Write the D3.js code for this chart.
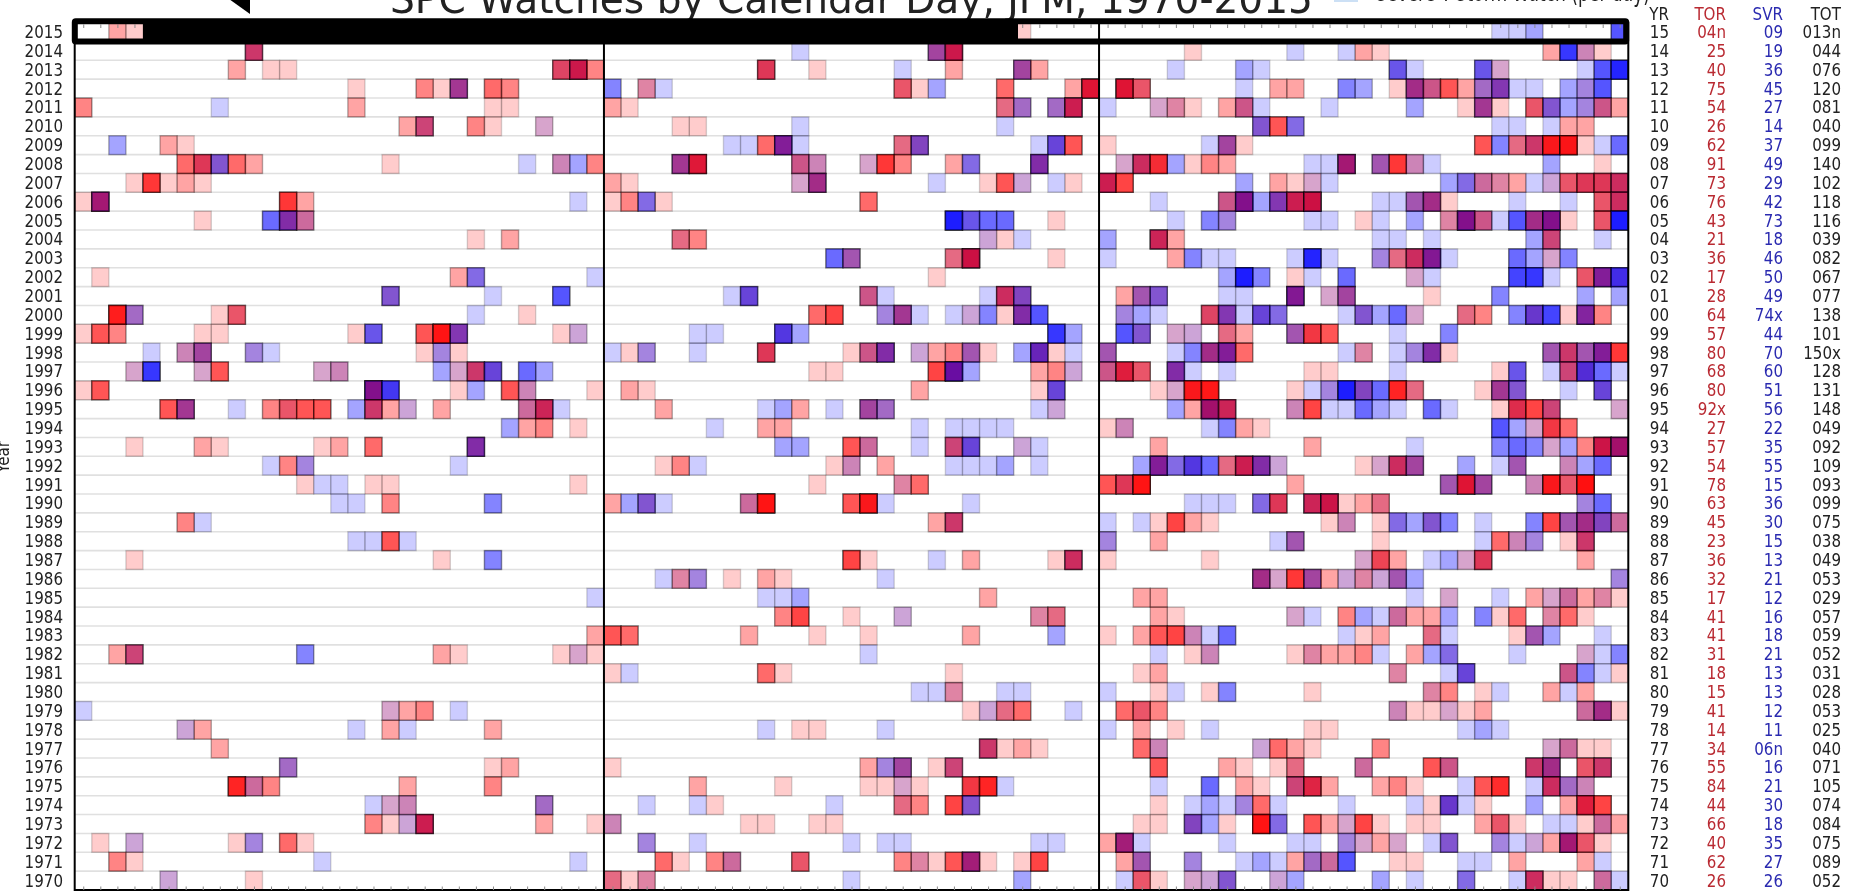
<!DOCTYPE html>
<html><head><meta charset="utf-8">
<script src="https://d3js.org/d3.v7.min.js"></script>
<style>html,body{margin:0;padding:0;background:#fff;overflow:hidden}svg{display:block;filter:blur(0.55px)}text{font-family:"DejaVu Sans",sans-serif}</style>
</head><body><svg id="c" width="1854" height="894"></svg>
<script>
// each cell: [day index from Jan 1, tornado watches, severe watches, (order: 1 = severe issued first, 2 = two tornado watches after the severe one)]
const y2015=[[2,2,0],[3,1,0],[55,1,0],[83,0,1],[84,0,1],[85,0,2],[90,0,5]];
const y2014=[[10,6,1],[42,0,1],[50,4,2],[51,10,1],[65,1,0],[71,0,1],[74,0,1],[75,2,0],[76,1,0],[86,2,0],[87,0,7],[88,2,1],[89,1,0]];
const y2013=[[9,2,0],[11,1,0],[12,1,0],[28,5,1,2],[29,10,1],[30,3,0],[40,6,1,2],[43,1,0],[48,0,1],[51,2,0],[55,4,2],[56,2,0],[64,0,1],[68,0,2],[69,0,1],[77,1,4],[78,0,1],[82,1,4],[83,1,1,1],[88,0,1],[89,0,5],[90,0,9]];
const y2012=[[16,1,0],[20,3,0],[21,1,0],[22,5,2],[24,4,0],[25,3,0],[31,0,3],[33,2,1,1],[34,0,1],[48,4,1,1],[49,1,0],[50,0,2],[54,4,0],[58,2,0],[59,11,1,2],[61,11,1,2],[62,4,1,1],[68,0,1],[70,2,0],[71,2,0],[74,0,3],[75,0,2],[77,1,0],[78,6,2],[79,4,1],[80,5,0],[81,2,0],[82,2,2],[83,4,3],[84,0,1],[85,0,1],[87,0,2],[88,1,2],[89,0,5]];
const y2011=[[0,3,0],[8,0,1],[16,2,0],[24,1,0],[25,1,0],[31,2,0],[32,1,0],[54,3,1,1],[55,2,2],[57,2,2],[58,9,1],[60,0,1],[63,1,1,1],[64,2,1,1],[65,1,0],[67,2,0],[68,4,1],[69,0,1],[73,0,1],[78,0,2],[81,1,0],[82,5,2],[83,1,0],[85,4,1,1],[86,2,3],[87,0,2],[88,1,2],[89,4,1],[90,2,0]];
const y2010=[[19,2,0],[20,5,1],[23,3,0],[24,1,0],[27,1,1,1],[35,1,0],[36,1,0],[42,0,1],[54,0,1],[69,2,3],[70,5,0],[71,1,3],[83,0,1],[84,0,1],[86,0,1],[87,2,0],[88,2,0]];
const y2009=[[2,0,2],[5,2,0],[6,1,0],[38,0,1],[39,0,1],[40,4,0],[41,7,3],[42,0,1],[48,3,1,1],[49,3,3],[56,0,1],[57,2,4],[58,5,0],[60,1,0],[66,0,1],[67,4,2],[68,1,0],[82,5,0],[83,0,3],[84,3,1,1],[85,6,1],[86,10,1,1],[87,11,1,1],[88,1,0],[89,0,1],[90,0,4]];
const y2008=[[6,4,0],[7,6,1,2],[8,2,3],[9,4,0],[10,2,0],[18,1,0],[26,0,1],[28,2,1],[29,0,2],[30,3,0],[35,5,2],[36,10,1,2],[42,4,1],[43,2,1],[46,1,1,1],[47,7,0],[48,3,0],[51,2,0],[52,1,3],[56,5,3],[61,1,1,1],[62,7,1],[63,7,1,1],[64,0,2],[65,1,0],[66,3,0],[67,2,0],[72,0,1],[73,0,1],[74,9,2],[76,3,2],[77,7,0],[78,2,1],[79,0,1],[86,0,2],[89,1,0]];
const y2007=[[3,1,0],[4,7,0],[5,1,0],[6,2,0],[7,1,0],[31,2,0],[32,1,0],[42,1,1,1],[43,6,2],[50,0,1],[53,1,0],[54,5,0],[55,1,1],[57,0,1],[58,1,0],[60,9,1],[61,6,0],[68,0,2],[70,2,0],[71,1,0],[72,1,1,1],[73,0,1],[80,0,2],[81,1,3],[82,3,1],[83,2,1,1],[84,2,0],[85,0,1],[86,1,1],[87,4,1,1],[88,6,1,2],[89,6,1,2],[90,7,1]];
const y2006=[[0,1,0],[1,9,2],[12,7,0],[13,2,0],[29,0,1],[31,1,0],[32,3,0],[33,1,3],[34,1,0],[46,4,0],[63,0,1],[67,4,1],[68,10,3],[69,0,2],[70,4,3],[71,9,1],[72,12,1],[76,0,1],[77,0,1],[78,3,2],[79,6,2],[80,1,0],[84,0,1],[87,0,1],[89,4,1,1],[90,7,1]];
const y2005=[[7,1,0],[11,0,4],[12,5,3],[13,3,1],[51,0,10],[52,1,4],[53,0,4],[54,0,4],[57,1,0],[64,0,1],[66,0,3],[67,1,2],[72,0,1],[73,0,1],[75,1,0],[76,0,1],[78,0,2],[80,2,1,1],[81,10,3],[82,4,1],[83,0,1],[84,0,5],[85,6,2],[86,10,3],[87,1,0],[89,4,1,1],[90,0,10]];
const y2004=[[23,1,0],[25,2,0],[35,3,1,1],[36,3,0],[53,1,1],[54,1,0],[55,0,1],[60,0,2],[63,8,1],[64,2,0],[76,0,1],[77,0,1],[79,0,1],[85,0,2],[86,5,1],[89,0,1]];
const y2003=[[44,0,4],[45,3,2],[51,3,1,1],[52,12,1],[57,1,0],[60,0,1],[64,2,0],[65,0,3],[66,0,1],[67,0,1],[71,0,1],[72,0,9],[73,0,1],[76,1,2],[77,3,1,1],[78,7,1],[79,8,3],[80,0,1],[84,0,4],[85,0,2],[86,1,1,1],[87,0,3]];
const y2002=[[1,1,0],[22,2,0],[23,1,3],[30,0,1],[50,1,0],[67,0,2],[68,0,10],[69,0,3],[71,1,0],[72,0,1],[74,0,4],[78,1,1,1],[79,0,1],[84,0,6],[85,0,7],[86,0,1],[88,4,1,1],[89,7,3],[90,2,6]];
const y2001=[[18,2,3],[24,0,1],[28,0,5],[38,0,1],[39,2,4],[46,4,1],[47,0,1],[53,0,1],[54,7,1],[55,3,3],[61,2,0],[62,3,2],[63,2,3],[67,0,1],[68,0,1],[71,8,3],[73,1,1,1],[74,4,2],[79,1,0],[83,0,3],[88,0,2],[90,0,2]];
const y2000=[[2,10,0],[3,2,2],[8,1,0],[9,4,1,1],[23,0,1],[26,1,0],[43,4,0],[44,6,0],[47,1,2],[48,5,2],[49,0,1],[51,0,1],[52,1,1],[53,0,3],[54,1,0],[55,5,3],[56,0,5],[61,1,2],[62,0,2],[63,0,1],[66,5,1,2],[67,4,3],[68,0,1],[69,2,4],[70,1,3],[74,0,1],[75,2,3],[76,0,2],[77,0,4],[78,1,1,1],[81,3,1,1],[82,3,0],[84,0,3],[85,3,4],[86,0,6],[87,1,0],[88,6,3],[89,3,0]];
const y1999=[[0,1,0],[1,5,0],[2,3,0],[7,1,0],[8,1,0],[16,1,0],[17,1,4],[20,5,0],[21,12,0],[22,4,3],[28,1,0],[29,1,1],[36,0,1],[37,0,1],[41,2,5],[42,0,2],[57,0,7],[58,0,2],[61,0,5],[62,2,3],[64,1,1,1],[65,1,1],[67,3,1,1],[68,2,0],[71,3,2],[72,6,1,1],[73,5,0],[77,0,1],[80,0,3]];
const y1998=[[4,0,1],[6,2,1],[7,4,2],[10,1,2],[11,0,1],[20,1,0],[21,1,2],[22,1,0],[31,0,1],[32,1,0],[33,1,2],[36,0,1],[40,6,1,2],[45,1,0],[46,4,1],[47,5,3],[49,1,1],[50,2,0],[51,3,0],[52,3,2],[53,1,0],[55,0,2],[56,5,4],[57,1,0],[58,0,1],[60,3,2],[64,0,1],[65,0,3],[66,6,2],[67,7,3],[68,4,0],[74,0,1],[75,2,1,1],[77,0,1],[78,1,2],[79,5,3],[80,1,0],[86,3,2],[87,6,1],[88,3,2],[89,7,3],[90,7,0]];
const y1997=[[3,1,1,1],[4,0,7],[7,1,1,1],[8,5,0],[14,1,1,1],[15,2,1],[21,0,2],[22,1,1,1],[23,6,1],[24,2,4],[26,0,4],[27,0,2],[43,1,0],[44,1,0],[50,6,0],[51,10,4],[52,0,2],[56,2,0],[57,3,0],[58,1,1],[60,4,1],[61,9,1,2],[62,4,1,1],[64,5,3],[65,0,1],[67,0,1],[72,1,0],[73,1,0],[77,0,1],[83,1,0],[84,1,4],[86,0,1],[87,5,1],[88,3,5],[89,0,4],[90,0,1]];
const y1996=[[0,1,0],[1,5,0],[17,10,3],[18,1,6],[22,1,0],[23,0,2],[25,5,0],[26,2,1],[30,1,0],[32,2,0],[33,1,0],[49,2,0],[56,1,0],[57,2,4],[63,1,0],[64,1,1,1],[65,10,1,1],[66,11,0],[71,1,0],[72,0,1],[73,1,2],[74,0,10],[75,3,3],[76,0,4],[77,9,0],[78,3,1,1],[82,1,0],[83,5,2],[84,2,3],[87,0,1],[89,2,4]];
const y1995=[[5,5,0],[6,5,2],[9,0,1],[11,3,0],[12,4,1,1],[13,5,0],[14,5,0],[16,0,2],[17,6,1],[18,2,0],[19,1,1],[21,2,0],[26,3,1],[27,8,1],[28,0,1],[34,2,0],[40,0,1],[41,0,2],[42,2,0],[44,0,1],[46,4,2],[47,2,2],[56,0,1],[57,1,1],[64,0,2],[65,2,0],[66,11,2],[67,8,1],[71,2,1],[72,6,0],[73,0,1],[74,0,1],[75,0,4],[76,0,2],[77,0,1],[79,0,4],[80,0,1],[83,1,0],[84,7,1,2],[85,6,0],[86,5,1],[90,1,1,1]];
const y1994=[[25,0,2],[26,2,0],[27,3,0],[29,1,0],[37,0,1],[40,2,0],[41,2,0],[49,0,1],[51,0,1],[52,0,1],[53,0,1],[54,0,1],[60,1,0],[61,2,1],[66,0,1],[67,0,3],[68,2,0],[69,1,0],[83,0,5],[84,0,2],[85,1,1,1],[86,6,1,1],[87,4,0]];
const y1993=[[3,1,0],[7,2,0],[8,1,0],[14,1,0],[15,2,0],[17,4,0],[23,5,3],[41,0,2],[42,0,2],[45,5,0],[46,3,1],[49,0,1],[51,5,1],[52,2,4],[55,1,1],[56,0,1],[63,2,0],[72,2,0],[78,0,1],[83,0,3],[84,0,4],[85,0,3],[86,1,1,1],[87,0,2],[88,3,0],[89,11,1],[90,11,2]];
const y1992=[[11,0,1],[12,3,0],[13,1,2],[22,0,1],[34,1,0],[35,3,0],[36,0,1],[44,1,0],[45,2,1],[47,2,0],[51,0,1],[52,0,1],[53,0,1],[54,0,2],[56,0,1],[62,0,2],[63,7,3],[64,1,3],[65,2,5],[66,0,4],[67,3,1,1],[68,9,1],[69,5,3],[70,1,1],[75,1,0],[76,1,1,1],[77,7,1],[78,4,2],[81,0,2],[83,0,1],[84,3,2],[87,2,1],[88,0,2],[89,0,4]];
const y1991=[[13,1,0],[14,0,1],[15,0,1],[17,1,0],[18,1,0],[29,1,0],[43,1,0],[48,2,1,1],[49,4,0],[60,5,0],[61,6,1,2],[62,12,0],[71,2,0],[80,3,2],[81,11,1,2],[82,4,2],[85,2,1],[86,10,1,1],[87,4,1,1],[88,13,0]];
const y1990=[[15,0,1],[16,0,1],[18,3,0],[24,0,3],[31,2,0],[32,0,2],[33,2,3],[34,0,1],[39,3,1],[40,12,0],[45,5,0],[46,10,1,1],[47,0,1],[52,0,1],[65,0,1],[66,0,1],[67,0,1],[69,1,3],[70,6,1,2],[72,8,1],[73,11,1],[74,1,0],[75,2,0],[76,3,1,1],[88,1,2],[89,0,4]];
const y1989=[[6,3,0],[7,0,1],[50,2,0],[51,6,1],[60,0,1],[62,0,1],[63,1,0],[64,6,0],[65,2,0],[66,1,0],[73,1,0],[74,2,1],[76,1,0],[77,1,3],[78,0,2],[79,2,3],[80,0,3],[82,0,1],[85,0,3],[86,6,0],[87,3,2],[88,6,2],[89,3,3],[90,3,1]];
const y1988=[[16,0,1],[17,0,1],[18,5,0],[19,0,1],[60,1,2],[63,2,0],[70,0,1],[71,3,2],[76,1,0],[82,0,1],[83,4,0],[84,2,1],[85,1,2],[87,1,0],[88,6,1]];
const y1987=[[3,1,0],[21,1,0],[24,0,3],[45,6,0],[46,1,0],[50,0,1],[52,2,0],[57,1,0],[58,7,1],[60,1,0],[66,1,0],[75,1,1,1],[76,5,1,1],[77,2,0],[79,0,1],[80,0,2],[81,1,1,1],[82,6,1,2],[88,2,0]];
const y1986=[[34,0,1],[35,2,1,1],[36,1,2],[38,1,0],[40,2,0],[41,1,0],[47,0,1],[69,6,2],[70,1,1,1],[71,7,0],[72,4,2],[73,2,0],[74,1,1],[75,2,1,1],[76,1,1],[77,3,2],[78,0,2],[90,1,2]];
const y1985=[[30,0,1],[40,0,1],[41,0,1],[42,0,2],[53,2,0],[62,2,0],[63,2,0],[78,0,1],[80,1,1,1],[83,0,1],[85,2,0],[86,1,1,1],[87,3,1],[88,2,0],[89,2,1,1],[90,1,0]];
const y1984=[[41,3,0],[42,6,0],[45,1,0],[48,1,1],[56,2,1,1],[57,3,1,1],[63,2,0],[64,1,0],[71,1,1,1],[72,0,1],[74,3,0],[75,0,2],[76,0,1],[77,3,1],[78,2,0],[79,2,0],[80,0,2],[82,0,3],[83,1,0],[84,4,0],[86,2,1,1],[87,4,0],[88,1,0]];
const y1983=[[30,2,0],[31,5,0],[32,4,0],[39,2,0],[43,1,0],[46,1,0],[52,2,0],[57,0,2],[60,1,0],[62,2,0],[63,5,0],[64,6,0],[65,2,1],[66,0,1],[67,0,4],[74,0,1],[75,1,0],[76,2,0],[79,3,1,1],[80,0,1],[84,1,0],[85,3,2],[86,0,2],[89,0,1]];
const y1982=[[2,2,0],[3,5,1],[13,0,3],[21,2,0],[22,1,0],[28,1,0],[29,1,1,1],[30,1,0],[46,0,1],[63,0,1],[65,1,0],[66,2,1],[71,1,0],[72,2,1,1],[73,2,0],[74,2,0],[75,3,0],[76,0,1],[78,2,0],[79,0,2],[80,1,3],[84,0,1],[88,1,1,1],[89,0,1],[90,0,3]];
const y1981=[[31,1,0],[32,0,1],[40,4,0],[41,1,0],[51,1,0],[62,1,0],[63,2,0],[77,2,1,1],[80,0,1],[81,2,4],[87,4,1],[88,0,3],[89,0,1],[90,1,0]];
const y1980=[[49,0,1],[50,0,1],[51,2,1,1],[54,0,1],[55,0,1],[60,0,1],[63,1,0],[64,0,1],[66,1,0],[67,0,3],[72,1,0],[79,2,1,1],[80,3,0],[82,1,0],[83,0,1],[86,2,0],[87,0,1],[88,2,0]];
const y1979=[[0,0,1],[18,1,1,1],[19,2,0],[20,3,0],[22,0,1],[52,1,0],[53,1,1],[54,3,1,1],[55,4,0],[58,0,1],[61,4,0],[62,4,1,1],[63,3,0],[77,2,1],[78,1,0],[79,1,0],[80,1,1,1],[81,1,0],[82,2,0],[88,3,1],[89,6,2],[90,1,0]];
const y1978=[[6,1,1],[7,2,0],[16,0,1],[18,2,0],[19,0,1],[24,2,0],[40,0,1],[42,1,0],[43,1,0],[47,0,1],[60,0,1],[62,2,0],[64,1,0],[66,0,1],[72,1,0],[73,1,0],[81,0,1],[82,0,2],[83,0,1]];
const y1977=[[8,2,0],[53,6,1],[54,1,0],[55,2,0],[56,1,0],[62,4,0],[63,2,1],[69,1,1],[70,4,0],[71,2,0],[72,1,0],[76,3,0],[86,1,1,1],[87,3,1],[88,1,0],[89,1,0]];
const y1976=[[12,2,2],[24,1,0],[25,2,0],[31,1,0],[46,2,0],[47,1,2],[48,4,2],[50,1,0],[51,5,1],[63,5,0],[67,2,0],[68,1,0],[70,1,0],[71,3,1,1],[75,3,1],[79,5,0],[80,4,1],[85,6,1],[86,6,2],[88,4,1,1],[89,6,1]];
const y1975=[[9,9,0],[10,3,1],[11,3,0],[19,2,0],[24,3,0],[36,2,0],[41,1,0],[46,1,0],[47,1,0],[48,1,1,1],[49,1,0],[52,6,1,1],[53,9,0],[54,0,1],[63,0,1],[66,0,4],[68,2,0],[69,1,0],[71,5,1],[72,8,1,2],[73,2,0],[76,2,0],[77,3,0],[78,1,0],[81,0,1],[82,5,0],[83,8,0],[85,0,1],[86,7,1],[87,2,2],[88,2,1]];
const y1974=[[17,0,1],[18,1,1,1],[19,2,1],[27,2,2],[33,0,1],[36,0,1],[37,1,0],[44,0,1],[48,3,1,1],[49,3,0],[51,6,0],[52,2,3],[63,1,0],[65,0,1],[66,0,2],[67,0,1],[68,1,2],[69,4,0],[70,0,1],[74,0,1],[78,0,1],[79,1,0],[80,3,4],[81,0,1],[82,1,0],[85,0,2],[87,2,0],[88,9,1,2],[89,6,0]];
const y1973=[[17,3,0],[18,1,0],[19,1,1],[20,9,1],[27,2,0],[30,1,0],[31,2,1],[39,1,0],[40,1,0],[43,1,0],[44,1,0],[62,1,0],[63,1,0],[65,3,3],[66,0,2],[67,1,0],[69,12,0],[70,1,3],[72,5,0],[73,2,0],[74,1,1,1],[75,6,0],[76,1,0],[78,1,0],[79,1,0],[82,2,0],[83,4,1,1],[84,1,0],[86,0,1],[87,0,1],[88,1,0],[89,3,1],[90,2,0]];
const y1972=[[1,1,0],[3,1,1],[9,1,0],[10,1,2],[12,4,0],[13,1,0],[33,1,2],[36,0,1],[45,0,1],[47,0,1],[48,0,1],[56,0,1],[57,0,1],[60,2,0],[61,8,2],[62,0,1],[67,0,1],[71,0,1],[72,0,1],[74,1,2],[75,1,1,1],[76,2,0],[77,1,1,1],[79,0,1],[80,2,3],[83,1,2],[84,0,1],[85,1,1],[86,2,0],[87,9,2],[88,4,1,1],[89,1,0]];
const y1971=[[2,3,0],[3,1,0],[14,0,1],[29,0,1],[34,4,0],[35,1,0],[37,3,0],[38,3,1],[42,4,1,1],[48,3,0],[49,2,1,1],[50,1,0],[51,5,0],[52,8,2],[53,1,0],[55,1,0],[56,6,0],[61,2,0],[62,3,2],[65,1,2],[68,0,1],[69,0,2],[70,0,1],[71,2,0],[72,2,2],[73,3,1],[74,0,5],[77,1,0],[78,1,0],[81,0,1],[82,0,1],[84,2,0],[88,2,0],[89,0,1]];
const y1970=[[5,1,1],[10,1,0],[31,3,1,1],[32,1,0],[33,2,1,1],[45,0,1],[55,0,2],[61,0,1],[62,4,1,1],[63,1,0],[65,1,1,1],[66,1,1],[67,2,3],[70,1,1],[71,0,2],[76,0,2],[78,0,1],[81,1,3],[84,0,1],[85,7,1],[86,1,0],[87,1,0],[89,3,1],[90,0,1]];
const yearRows=[y2015,y2014,y2013,y2012,y2011,y2010,y2009,y2008,y2007,y2006,y2005,y2004,y2003,y2002,y2001,y2000,y1999,y1998,y1997,y1996,y1995,y1994,y1993,y1992,y1991,y1990,y1989,y1988,y1987,y1986,y1985,y1984,y1983,y1982,y1981,y1980,y1979,y1978,y1977,y1976,y1975,y1974,y1973,y1972,y1971,y1970];
const years=d3.range(2015,1969,-1);
const monthStarts=[31,60];
const tableYr=["15","14","13","12","11","10","09","08","07","06","05","04","03","02","01","00","99","98","97","96","95","94","93","92","91","90","89","88","87","86","85","84","83","82","81","80","79","78","77","76","75","74","73","72","71","70"];
const tableTor=["04n","25","40","75","54","26","62","91","73","76","43","21","36","17","28","64","57","80","68","80","92x","27","57","54","78","63","45","23","36","32","17","41","41","31","18","15","41","14","34","55","84","44","66","40","62","26"];
const tableSvr=["09","19","36","45","27","14","37","49","29","42","73","18","46","50","49","74x","44","70","60","51","56","22","35","55","15","36","30","15","13","21","12","16","18","21","13","13","12","11","06n","16","21","30","18","35","27","26"];
const tableTot=["013n","044","076","120","081","040","099","140","102","118","116","039","082","067","077","138","101","150x","128","131","148","049","092","109","093","099","075","038","049","053","029","057","059","052","031","028","053","025","040","071","105","074","084","075","089","052"];

const svg=d3.select("#c");
const x=d3.scaleLinear().domain([0,91]).range([74.7,1628.3]);
const y=d3.scaleBand().domain(years).range([22.6,890]);
const layers=([d,t,s,ord])=>{
  const after=ord===1?t:(ord||0);
  const mk=(n,c)=>d3.range(n).map(()=>({d,c}));
  return mk(t-after,"#f00").concat(mk(s,"#00f"),mk(after,"#f00"));
};
const hs=.84; // horizontal squeeze of the small labels
const FS=18;
const label=(g,tx,ty,txt,col,size=FS)=>g.append("text")
  .attr("transform",`translate(${tx},${ty}) scale(${hs},1)`)
  .attr("text-anchor","end").attr("dominant-baseline","central")
  .attr("font-size",size).attr("fill",col).text(txt);

// title and cropped legend
svg.append("text").attr("x",390).attr("y",13.3).attr("font-size",40).attr("fill","#222")
  .attr("textLength",923).attr("lengthAdjust","spacingAndGlyphs").text("SPC Watches by Calendar Day, JFM, 1970-2015");
svg.append("rect").attr("x",1334).attr("y",-8).attr("width",24).attr("height",10).attr("fill","#cce0f5");
svg.append("text").attr("x",1376).attr("y",0.5).attr("font-size",26).attr("fill","#222")
  .attr("textLength",274).attr("lengthAdjust","spacingAndGlyphs").text("Severe T-Storm Watch (per day)");

// gridlines
svg.append("g").selectAll("line").data(years.slice(1)).join("line")
  .attr("x1",x(0)).attr("x2",x(91)).attr("y1",d=>y(d)).attr("y2",d=>y(d))
  .attr("stroke","#e0e0e0").attr("stroke-width",1.6);

// cells: one translucent rectangle per watch
const rows=svg.append("g").selectAll("g").data(yearRows).join("g")
  .attr("transform",(r,i)=>`translate(0,${y(years[i])})`);
rows.selectAll("rect").data(r=>r.flatMap(layers)).join("rect")
  .attr("x",l=>x(l.d)).attr("width",l=>x(l.d+1)-x(l.d)).attr("y",0).attr("height",y.bandwidth())
  .attr("fill",l=>l.c).attr("fill-opacity",.2)
  .attr("stroke","#000").attr("stroke-opacity",.17).attr("stroke-width",1.4);

// month dividers and frame
svg.append("g").selectAll("line").data(monthStarts).join("line")
  .attr("x1",d=>x(d)).attr("x2",d=>x(d)).attr("y1",22.6).attr("y2",890)
  .attr("stroke","#000").attr("stroke-width",2);
svg.append("rect").attr("x",x(0)).attr("y",22.6).attr("width",x(91)-x(0)).attr("height",890-22.6)
  .attr("fill","none").attr("stroke","#000").attr("stroke-width",2);

// day ticks
const dayTicks=d3.range(91).map(d=>d+.5);
const ax=d3.axisBottom(x).tickValues(dayTicks).tickSize(-3.5).tickFormat("");
const gb=svg.append("g").attr("transform","translate(0,890)").call(ax);
gb.select(".domain").remove(); gb.selectAll("line").attr("stroke","#888");
const at=d3.axisTop(x).tickValues(dayTicks).tickSize(-3.5).tickFormat("");
const gt=svg.append("g").attr("transform","translate(0,24.5)").call(at);
gt.select(".domain").remove(); gt.selectAll("line").attr("stroke","#888");

// black highlight over the 2015 row
svg.append("rect").attr("x",143).attr("y",22).attr("width",875).attr("height",18).attr("fill","#000");
svg.append("rect").attr("x",74.8).attr("y",21.3).attr("width",1551.4).attr("height",20.2)
  .attr("fill","none").attr("stroke","#000").attr("stroke-width",6).attr("rx",1);
svg.append("path").attr("d",d3.line()([[229,-1],[250,-1],[250,14]])+"Z").attr("fill","#000");

// labels
const yl=svg.append("g");
years.forEach(v=>label(yl,63,y(v)+y.bandwidth()/2,String(v),"#222"));
svg.append("text").attr("transform","translate(9,457) rotate(-90) scale(.84,1)").attr("text-anchor","middle")
  .attr("font-size",FS).attr("fill","#222").text("Year");

// right-hand table
const tb=svg.append("g");
const colYr=1669,colTor=1726,colSvr=1783,colTot=1841,hdrY=14.5;
const RED="#b92a32",BLUE="#2a2ab0",INK="#222";
[[colYr,"YR",INK],[colTor,"TOR",RED],[colSvr,"SVR",BLUE],[colTot,"TOT",INK]].forEach(([cx,t,c])=>label(tb,cx,hdrY,t,c));
years.forEach((v,i)=>{
  const cy=y(v)+y.bandwidth()/2;
  label(tb,colYr,cy,tableYr[i],INK);
  label(tb,colTor,cy,tableTor[i],RED);
  label(tb,colSvr,cy,tableSvr[i],BLUE);
  label(tb,colTot,cy,tableTot[i],INK);
});
</script></body></html>
